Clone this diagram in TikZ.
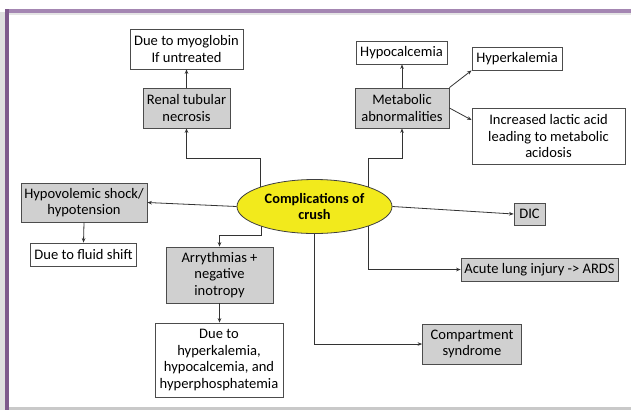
\documentclass[tikz,border=0pt]{standalone}
\usepackage{fontspec}
\setmainfont{Carlito}
\usetikzlibrary{arrows.meta,backgrounds,calc,shapes.geometric}
\definecolor{boxgray}{HTML}{D0D0D0}
\definecolor{ellyellow}{HTML}{F2EA1C}
\definecolor{framepurple}{HTML}{7E5A8C}
\definecolor{toppurple}{HTML}{A486B2}
\definecolor{shadowgray}{HTML}{C9C9C9}
\definecolor{linecol}{HTML}{333333}
\begin{document}
\begin{tikzpicture}[x=1bp,y=-1bp,
  base/.style={draw=black!70, line width=0.8bp, align=center, inner sep=0pt,
     font=\fontsize{14.6}{16.7}\selectfont, anchor=center},
  whitebox/.style={base, fill=white},
  graybox/.style={base, fill=boxgray},
  conn/.style={draw=linecol, line width=0.8bp, -{Stealth[length=4.5bp,width=3.6bp]}}]
\useasboundingbox (0,0) rectangle (631,410);
% nodes
\node[whitebox, minimum width=113bp, minimum height=40bp] (myo) at (186.5,49) {Due to myoglobin\\If untreated};
\node[graybox, minimum width=87bp, minimum height=40bp] (renal) at (186.5,108) {Renal tubular\\necrosis};
\node[whitebox, minimum width=91bp, minimum height=23bp] (hypocal) at (401.5,52.5) {Hypocalcemia};
\node[whitebox, minimum width=90bp, minimum height=23bp] (hyperk) at (517,58.5) {Hyperkalemia};
\node[graybox, minimum width=94bp, minimum height=40bp] (metab) at (402,108) {Metabolic\\abnormalities};
\node[whitebox, minimum width=153bp, minimum height=56bp] (lactic) at (548.5,136) {Increased lactic acid\\leading to metabolic\\acidosis};
\node[graybox, minimum width=126bp, minimum height=39bp] (hypov) at (84,202.5) {Hypovolemic shock/\\hypotension};
\node[whitebox, minimum width=106bp, minimum height=23bp] (fluid) at (83.5,254.5) {Due to fluid shift};
\node[graybox, minimum width=107bp, minimum height=56bp] (arrn) at (219.5,275) {Arrythmias +\\negative\\inotropy};
\node[whitebox, minimum width=128bp, minimum height=74bp] (dueto) at (219,360) {Due to\\hyperkalemia,\\hypocalcemia, and\\hyperphosphatemia};
\node[graybox, minimum width=31bp, minimum height=22bp] (dic) at (529.5,214) {DIC};
\node[graybox, minimum width=157bp, minimum height=23bp] (ali) at (539.5,269.5) {Acute lung injury -> ARDS};
\node[graybox, minimum width=99bp, minimum height=40bp] (comp) at (472,344) {Compartment\\syndrome};
\node[ellipse, draw=black!75, line width=0.8bp, fill=ellyellow, minimum width=155bp, minimum height=54bp,
      inner sep=0pt, align=center, font=\fontsize{14.4}{16.5}\selectfont\bfseries] (ell) at (314.5,206.5) {Complications of\\crush};
% frame and connectors behind the ellipse
\begin{scope}[on background layer]
\fill[white] (0,0) rectangle (631,410);
\fill[shadowgray!60] (0,12) rectangle (5,410);
\fill[shadowgray!50] (9,12) rectangle (631,15);
\fill[toppurple] (5,8.5) rectangle (631,12.5);
\fill[framepurple] (5,8.5) rectangle (9,410);
\fill[shadowgray] (9,406.5) rectangle (631,410);
\draw[conn] ([xshift=-54.5bp]ell.center) |- ([yshift=-30bp]renal.south) -- (renal.south);
\draw[conn] ([xshift=53.5bp]ell.center) |- ([yshift=-30bp]metab.south) -- (metab.south);
\draw[conn] ([xshift=-53.5bp]ell.center) |- ([yshift=11bp]arrn.north) -- (arrn.north);
\draw[conn] ([xshift=53.5bp]ell.center) |- (ali.west);
\draw[conn] (ell.center) |- (comp.west);
\end{scope}
\draw[conn] (renal.north) -- (myo.south);
\draw[conn] (metab.north) -- (hypocal.south -| metab.north);
\draw[conn] (metab.north east) -- (hyperk.south west);
\draw[conn] (metab.east) -- ([yshift=16bp]lactic.west);
\draw[conn] (ell.west) -- (hypov.east);
\draw[conn] (ell.east) -- (dic.west);
\draw[conn] (hypov.south) -- (fluid.south |- fluid.north);
\draw[conn] (arrn.south) -- (dueto.north -| arrn.south);
\end{tikzpicture}
\end{document}
